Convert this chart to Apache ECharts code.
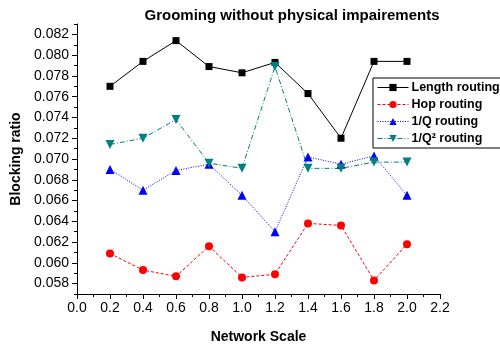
<!DOCTYPE html>
<html>
<head>
<meta charset="utf-8">
<script src="https://cdn.jsdelivr.net/npm/echarts@6/dist/echarts.min.js"></script>
<style>
  html, body { margin: 0; padding: 0; background: #fff; }
  #chart { width: 500px; height: 349px; }
</style>
</head>
<body>
<div id="chart"></div>
<script>
var scales = [0.2, 0.4, 0.6, 0.8, 1.0, 1.2, 1.4, 1.6, 1.8, 2.0];
var lengthRouting = [0.0770, 0.0794, 0.0814, 0.0789, 0.0783, 0.0793, 0.0763, 0.0720, 0.0794, 0.0794];
var hopRouting = [0.0609, 0.0593, 0.0587, 0.0616, 0.0586, 0.0589, 0.0638, 0.0636, 0.0583, 0.0618];
var qRouting = [0.0690, 0.0670, 0.0689, 0.0695, 0.0665, 0.0630, 0.0702, 0.0695, 0.0703, 0.0665];
var q2Routing = [0.0714, 0.0720, 0.0738, 0.0696, 0.0691, 0.0789, 0.0691, 0.0691, 0.0697, 0.0697];
var yMajorTicks = [0.058, 0.060, 0.062, 0.064, 0.066, 0.068, 0.070, 0.072, 0.074, 0.076, 0.078, 0.080, 0.082];

function pairs(vals) {
    return scales.map(function (x, i) { return [x, vals[i]]; });
}

var myChart = echarts.init(document.getElementById('chart'));
var font = '"Liberation Sans", Arial, sans-serif';

function line(name, vals, color, type, symbol, size, rotate) {
    return {
        name: name,
        type: 'line',
        data: pairs(vals),
        symbol: symbol,
        symbolSize: size,
        symbolRotate: rotate || 0,
        yAxisIndex: 0,
        itemStyle: { color: color },
        lineStyle: { color: color, width: 1, type: type },
        animation: false
    };
}

var option = {
    backgroundColor: '#fff',
    textStyle: { fontFamily: font },
    title: {
        text: 'Grooming without physical impairements',
        left: 287,
        textAlign: 'center',
        top: 3,
        textStyle: { fontSize: 15, fontWeight: 'bold', color: '#000', fontFamily: font }
    },
    legend: {
        orient: 'vertical',
        left: 373,
        top: 78,
        width: 124,
        padding: [3, 2, 3, 4],
        itemGap: 4,
        itemWidth: 31,
        itemHeight: 9,
        borderColor: '#000',
        borderWidth: 1,
        backgroundColor: '#fff',
        lineStyle: { width: 1 },
        textStyle: { fontSize: 12.5, fontWeight: 'bold', color: '#000', fontFamily: font, padding: [0, 0, 0, -2] },
        data: [
            { name: 'Length routing', lineStyle: { type: 'solid', width: 1 } },
            { name: 'Hop routing', lineStyle: { type: [3, 2], width: 1 } },
            { name: '1/Q routing', lineStyle: { type: [1, 1.5], width: 1 } },
            { name: '1/Q\u00b2 routing', lineStyle: { type: [5, 2, 1, 2], width: 1 } }
        ]
    },
    grid: { left: 77, right: 60, top: 24, bottom: 55, containLabel: false },
    xAxis: {
        type: 'value',
        min: 0,
        max: 2.2,
        interval: 0.2,
        name: 'Network Scale',
        nameLocation: 'middle',
        nameGap: 36,
        nameTextStyle: { fontSize: 14, fontWeight: 'bold', color: '#000', fontFamily: font },
        axisLine: { show: true, onZero: false, lineStyle: { color: '#000', width: 1 } },
        axisTick: { show: true, inside: false, length: 5, lineStyle: { color: '#000' } },
        minorTick: { show: true, splitNumber: 2, length: 3, lineStyle: { color: '#000' } },
        axisLabel: { color: '#000', fontSize: 14, margin: 7, fontFamily: font, formatter: function (v) { return v.toFixed(1); } },
        splitLine: { show: false }
    },
    yAxis: [{
        type: 'value',
        min: 0.057,
        max: 0.083,
        interval: 0.001,
        name: 'Blocking ratio',
        nameLocation: 'middle',
        nameGap: 49,
        nameTextStyle: { fontSize: 14, fontWeight: 'bold', color: '#000', fontFamily: font },
        axisLine: { show: true, lineStyle: { color: '#000', width: 1 } },
        axisTick: { show: true, inside: false, length: 3, lineStyle: { color: '#000' } },
        axisLabel: {
            color: '#000', fontSize: 14, margin: 8, fontFamily: font,
            formatter: function (v) {
                var k = Math.round(v * 1000);
                return k % 2 === 0 ? (k / 1000).toFixed(3) : '';
            }
        },
        splitLine: { show: false }
    }, {
        type: 'value',
        position: 'left',
        min: 0.057,
        max: 0.083,
        interval: 0.001,
        axisLine: { show: false },
        axisTick: { show: true, inside: false, length: 5, customValues: yMajorTicks, lineStyle: { color: '#000' } },
        axisLabel: { show: false },
        splitLine: { show: false }
    }],
    series: [
        line('Length routing', lengthRouting, '#000000', 'solid', 'rect', 7),
        line('Hop routing', hopRouting, '#ff0000', [3, 2], 'circle', 8),
        line('1/Q routing', qRouting, '#0000ff', [1, 1.5], 'triangle', 9),
        line('1/Q\u00b2 routing', q2Routing, '#008080', [5, 2, 1, 2], 'triangle', 9, 180)
    ]
};

option && myChart.setOption(option);
</script>
</body>
</html>
